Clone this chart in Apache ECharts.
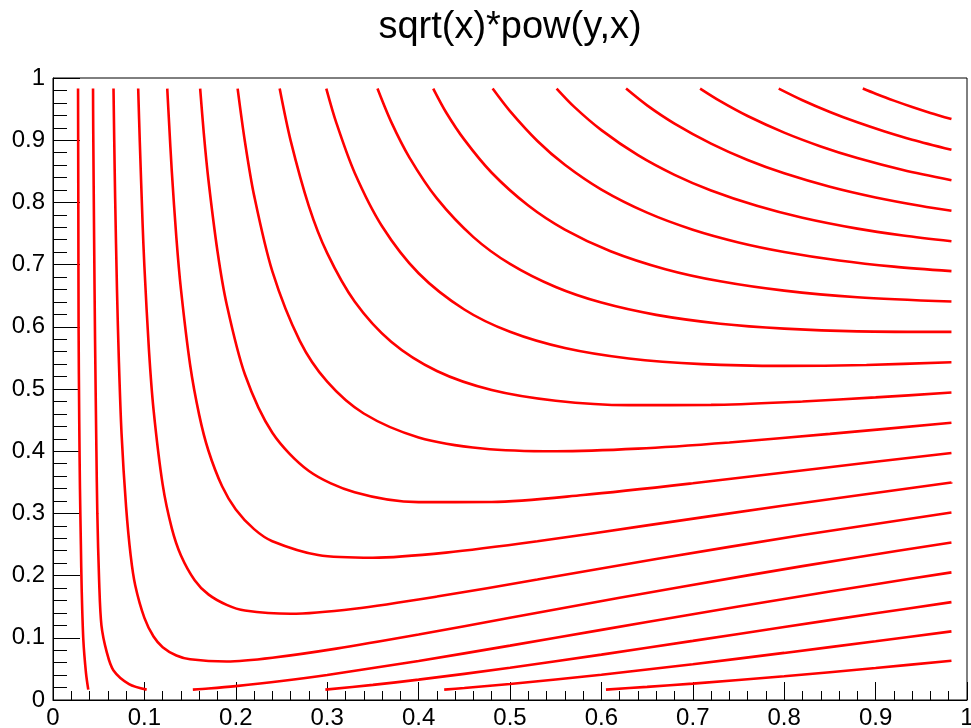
<!DOCTYPE html>
<html>
<head>
<meta charset="utf-8">
<script src="https://cdn.jsdelivr.net/npm/echarts@6/dist/echarts.min.js"></script>
<style>
  html, body { margin: 0; padding: 0; background: #ffffff; }
  #chart { width: 971px; height: 728px; }
</style>
</head>
<body>
<div id="chart"></div>
<script>
// Title of the plot (the function whose contours are drawn)
const chartTitle = 'sqrt(x)*pow(y,x)';

// Contour pieces, one array per drawn line: [x, y] points along the line.
// Named by contour level.
const c0927 = [[0.886,0.983],[0.9,0.9747],[0.92,0.9636],[0.94,0.9534],[0.96,0.9439],[0.983,0.9339]];
const c0879 = [[0.794,0.983],[0.82,0.9643],[0.85,0.9454],[0.88,0.9287],[0.91,0.914],[0.94,0.9009],[0.983,0.8847]];
const c0831 = [[0.708,0.983],[0.73,0.9628],[0.76,0.9389],[0.80,0.9122],[0.84,0.89],[0.88,0.8713],[0.93,0.8521],[0.983,0.8356]];
const c0783 = [[0.627,0.983],[0.65,0.956],[0.68,0.9267],[0.72,0.8945],[0.76,0.8682],[0.80,0.8468],[0.85,0.8252],[0.90,0.808],[0.95,0.7942],[0.983,0.7866]];
const c0735 = [[0.551,0.983],[0.57,0.954],[0.60,0.9162],[0.64,0.8759],[0.68,0.8443],[0.72,0.8192],[0.77,0.7945],[0.82,0.7753],[0.88,0.7578],[0.93,0.7468],[0.983,0.7375]];
const c0688 = [[0.481,0.983],[0.50,0.9467],[0.53,0.8987],[0.56,0.8605],[0.60,0.8206],[0.65,0.7835],[0.70,0.7561],[0.75,0.7357],[0.80,0.7204],[0.86,0.7067],[0.92,0.6968],[0.983,0.6895]];
const c0640 = [[0.416,0.983],[0.43,0.945],[0.45,0.9009],[0.48,0.8477],[0.52,0.795],[0.56,0.7563],[0.61,0.7215],[0.67,0.6926],[0.73,0.6731],[0.80,0.6581],[0.88,0.6476],[0.983,0.6406]];
const c0592 = [[0.355,0.983],[0.37,0.9294],[0.39,0.872],[0.42,0.8064],[0.46,0.7442],[0.50,0.7011],[0.55,0.6639],[0.60,0.6389],[0.66,0.6192],[0.73,0.605],[0.80,0.5971],[0.88,0.5927],[0.983,0.5919]];
const c0544 = [[0.299,0.983],[0.31,0.9279],[0.33,0.8477],[0.36,0.7617],[0.40,0.6861],[0.45,0.6278],[0.50,0.5919],[0.56,0.5658],[0.63,0.549],[0.71,0.540],[0.80,0.5372],[0.89,0.5387],[0.983,0.5431]];
const c0496 = [[0.248,0.983],[0.26,0.8993],[0.28,0.7937],[0.30,0.7184],[0.33,0.6407],[0.37,0.576],[0.42,0.529],[0.48,0.4984],[0.55,0.4812],[0.63,0.4741],[0.72,0.4744],[0.82,0.480],[0.90,0.4865],[0.983,0.4943]];
const c0448 = [[0.202,0.983],[0.21,0.8975],[0.22,0.8113],[0.24,0.689],[0.27,0.5774],[0.30,0.5117],[0.34,0.4606],[0.40,0.4222],[0.47,0.4044],[0.55,0.3999],[0.64,0.4041],[0.74,0.4141],[0.85,0.4278],[0.983,0.4457]];
const c0400 = [[0.161,0.983],[0.165,0.911],[0.17,0.8368],[0.18,0.721],[0.19,0.6363],[0.21,0.5233],[0.24,0.4297],[0.28,0.3682],[0.33,0.3339],[0.40,0.3181],[0.48,0.3184],[0.58,0.3295],[0.70,0.3484],[0.84,0.3727],[0.983,0.3972]];
const c0353 = [[0.125,0.983],[0.127,0.928],[0.13,0.8495],[0.135,0.743],[0.14,0.66],[0.15,0.539],[0.16,0.458],[0.17,0.4011],[0.185,0.3436],[0.20,0.3064],[0.22,0.2747],[0.24,0.2553],[0.29,0.2331],[0.35,0.2287],[0.43,0.2369],[0.53,0.2552],[0.65,0.2807],[0.80,0.3128],[0.983,0.3497]];
const c0305 = [[0.0932,0.983],[0.095,0.896],[0.098,0.767],[0.10,0.697],[0.105,0.562],[0.11,0.4668],[0.12,0.3462],[0.13,0.276],[0.14,0.2324],[0.155,0.1927],[0.17,0.1698],[0.19,0.153],[0.21,0.1439],[0.26,0.1386],[0.33,0.1468],[0.42,0.1663],[0.53,0.1937],[0.66,0.2267],[0.82,0.2652],[0.983,0.3014]];
const c0257 = [[0.0662,0.983],[0.067,0.8994],[0.068,0.8068],[0.07,0.66],[0.072,0.5488],[0.075,0.4283],[0.08,0.31],[0.085,0.232],[0.09,0.184],[0.10,0.132],[0.11,0.102],[0.12,0.085],[0.135,0.0715],[0.15,0.0655],[0.19,0.062],[0.24,0.068],[0.31,0.0826],[0.40,0.1053],[0.50,0.1321],[0.62,0.1643],[0.76,0.2004],[0.88,0.2296],[0.983,0.2532]];
const c0209a = [[0.0438,0.983],[0.044,0.92],[0.045,0.74],[0.046,0.58],[0.0475,0.40],[0.0485,0.30],[0.0505,0.19],[0.053,0.12],[0.0588,0.077],[0.066,0.048],[0.0832,0.0257],[0.1025,0.0167]];
const c0209b = [[0.153,0.0167],[0.17,0.0184],[0.2,0.0223],[0.25,0.0305],[0.3,0.0403],[0.4,0.0628],[0.5,0.0874],[0.6,0.1127],[0.7,0.1378],[0.8,0.1625],[0.9,0.1862],[0.983,0.2052]];
const c0161a = [[0.0274,0.983],[0.0277,0.8],[0.028,0.6],[0.0287,0.45],[0.0295,0.34],[0.0305,0.25],[0.0314,0.177],[0.0332,0.0965],[0.0361,0.0434],[0.0386,0.0167]];
const c0161b = [[0.298,0.0167],[0.35,0.0243],[0.4,0.0327],[0.5,0.0518],[0.6,0.0729],[0.7,0.095],[0.8,0.1173],[0.9,0.1394],[0.983,0.1573]];
const c0114 = [[0.428,0.0167],[0.45,0.0193],[0.5,0.0258],[0.6,0.0407],[0.7,0.0576],[0.8,0.0757],[0.9,0.0945],[0.983,0.1103]];
const c0066 = [[0.605,0.0167],[0.65,0.0211],[0.7,0.0264],[0.8,0.0382],[0.9,0.0515],[0.983,0.0632]];

const contourPieces = [
  c0927, c0879, c0831, c0783, c0735, c0688, c0640, c0592, c0544, c0496,
  c0448, c0400, c0353, c0305, c0257, c0209a, c0209b, c0161a, c0161b, c0114, c0066
];

const FONT = '"Liberation Sans", Arial, Helvetica, sans-serif';

function axisCommon(tickLen, minorLen) {
  return {
    type: 'value',
    min: 0,
    max: 1,
    interval: 0.1,
    axisLine: { show: true, onZero: false, lineStyle: { color: '#000', width: 1 } },
    axisTick: { show: true, inside: true, length: tickLen, lineStyle: { color: '#000', width: 1 } },
    minorTick: { show: true, splitNumber: 5, length: minorLen, lineStyle: { color: '#000', width: 1 } },
    splitLine: { show: false },
    minorSplitLine: { show: false },
    axisLabel: {
      show: true, color: '#000', fontSize: 24, fontFamily: FONT,
      showMinLabel: true, showMaxLabel: true, hideOverlap: false
    }
  };
}

const xAxis = axisCommon(18, 9);
xAxis.axisLabel.margin = 6;
const yAxis = axisCommon(27, 14);
yAxis.axisLabel.margin = 8;

const chart = echarts.init(document.getElementById('chart'), null, { renderer: 'canvas' });
chart.setOption({
  animation: false,
  backgroundColor: '#ffffff',
  graphic: [{
    type: 'text',
    x: 510,
    y: 28,
    style: {
      text: chartTitle,
      font: '38px ' + FONT,
      fill: '#000',
      align: 'center',
      verticalAlign: 'middle'
    }
  }],
  grid: {
    left: 53, top: 78, right: 4, bottom: 28,
    show: true, borderColor: '#000', borderWidth: 1,
    containLabel: false, outerBoundsMode: 'none'
  },
  xAxis: xAxis,
  yAxis: yAxis,
  series: contourPieces.map(function (pts) {
    return {
      type: 'line',
      data: pts,
      showSymbol: false,
      symbol: 'none',
      smooth: 0.3,
      silent: true,
      lineStyle: { color: '#ff0000', width: 2.6 }
    };
  })
});
</script>
</body>
</html>
